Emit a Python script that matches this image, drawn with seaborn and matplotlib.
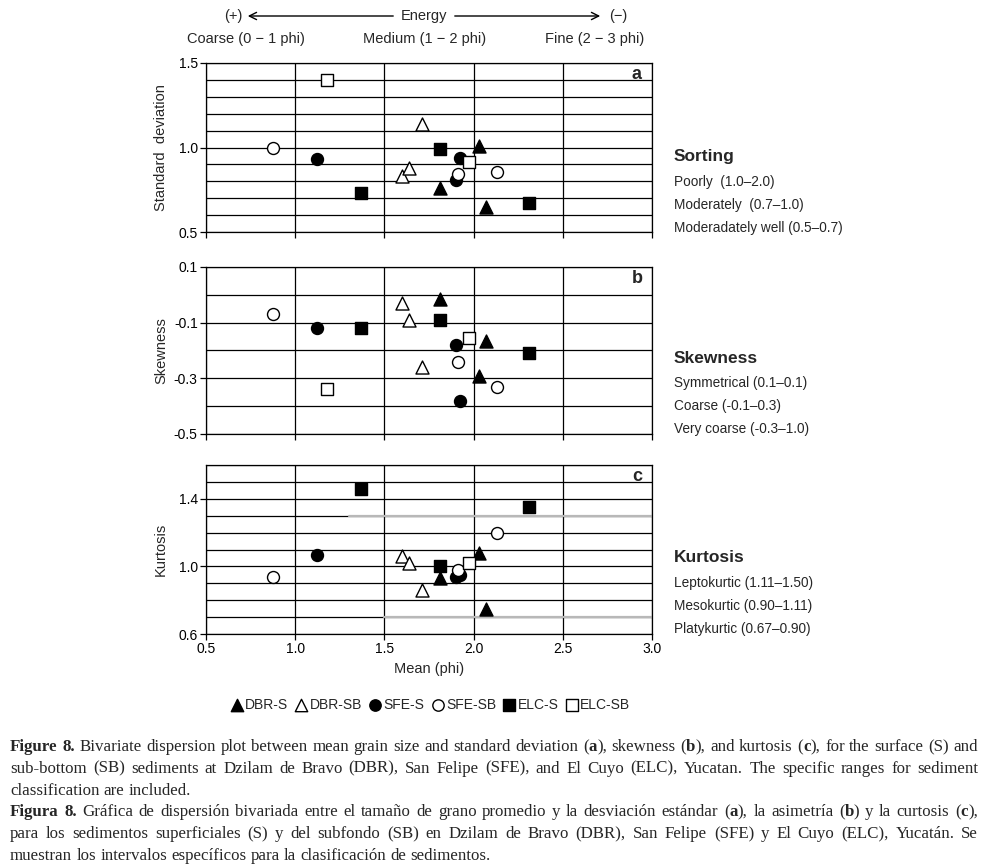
import matplotlib
matplotlib.use("Agg")
import matplotlib.pyplot as plt
import numpy as np
import pandas as pd
import seaborn as sns
from matplotlib.ticker import MultipleLocator
from matplotlib.patches import FancyArrowPatch

# mean grain size (phi) and the three moments
dbr_s_mean = [1.81, 2.03, 2.07]
dbr_s_sd = [0.76, 1.01, 0.645]
dbr_s_skew = [-0.015, -0.29, -0.165]
dbr_s_kurt = [0.93, 1.08, 0.75]

dbr_sb_mean = [1.60, 1.64, 1.71]
dbr_sb_sd = [0.83, 0.88, 1.14]
dbr_sb_skew = [-0.03, -0.09, -0.26]
dbr_sb_kurt = [1.06, 1.02, 0.86]

sfe_s_mean = [1.12, 1.90, 1.925]
sfe_s_sd = [0.93, 0.81, 0.935]
sfe_s_skew = [-0.12, -0.18, -0.38]
sfe_s_kurt = [1.065, 0.94, 0.95]

sfe_sb_mean = [0.875, 1.91, 2.13]
sfe_sb_sd = [1.0, 0.845, 0.855]
sfe_sb_skew = [-0.07, -0.24, -0.33]
sfe_sb_kurt = [0.94, 0.98, 1.20]

elc_s_mean = [1.37, 1.81, 2.31]
elc_s_sd = [0.73, 0.99, 0.67]
elc_s_skew = [-0.12, -0.09, -0.21]
elc_s_kurt = [1.46, 1.0, 1.35]

elc_sb_mean = [1.18, 1.975]
elc_sb_sd = [1.40, 0.915]
elc_sb_skew = [-0.34, -0.155]
elc_sb_kurt = [np.nan, 1.02]

groups = ["DBR-S", "DBR-SB", "SFE-S", "SFE-SB", "ELC-S", "ELC-SB"]

sd_ticks = [0.5, 1.0, 1.5]
sd_labels = ["0.5", "1.0", "1.5"]
skew_ticks = [-0.5, -0.3, -0.1, 0.1]
skew_labels = ["-0.5", "-0.3", "-0.1", "0.1"]
kurt_ticks = [0.6, 1.0, 1.4]
kurt_labels = ["0.6", "1.0", "1.4"]
mean_ticks = [0.5, 1.0, 1.5, 2.0, 2.5, 3.0]
mean_labels = ["0.5", "1.0", "1.5", "2.0", "2.5", "3.0"]

# faint grey lines across panel c
kurt_grey_y = [1.3, 0.7]
kurt_grey_from = [1.3, 1.5]

sorting_txt = ["Poorly  (1.0–2.0)", "Moderately  (0.7–1.0)", "Moderadately well (0.5–0.7)"]
skew_txt = ["Symmetrical (0.1–0.1)", "Coarse (-0.1–0.3)", "Very coarse (-0.3–1.0)"]
kurt_txt = ["Leptokurtic (1.11–1.50)", "Mesokurtic (0.90–1.11)", "Platykurtic (0.67–0.90)"]

caption = [
    "*Figure 8.* Bivariate dispersion plot between mean grain size and standard deviation (*a*), skewness (*b*), and kurtosis (*c*), for the surface (S) and",
    "sub-bottom (SB) sediments at Dzilam de Bravo (DBR), San Felipe (SFE), and El Cuyo (ELC), Yucatan. The specific ranges for sediment",
    "classification are included.",
    "*Figura 8.* Gráfica de dispersión bivariada entre el tamaño de grano promedio y la desviación estándar (*a*), la asimetría (*b*) y la curtosis (*c*),",
    "para los sedimentos superficiales (S) y del subfondo (SB) en Dzilam de Bravo (DBR), San Felipe (SFE) y El Cuyo (ELC), Yucatán. Se",
    "muestran los intervalos específicos para la clasificación de sedimentos.",
]

rows = []
for g, m, s, k, u in [
    ("DBR-S", dbr_s_mean, dbr_s_sd, dbr_s_skew, dbr_s_kurt),
    ("DBR-SB", dbr_sb_mean, dbr_sb_sd, dbr_sb_skew, dbr_sb_kurt),
    ("SFE-S", sfe_s_mean, sfe_s_sd, sfe_s_skew, sfe_s_kurt),
    ("SFE-SB", sfe_sb_mean, sfe_sb_sd, sfe_sb_skew, sfe_sb_kurt),
    ("ELC-S", elc_s_mean, elc_s_sd, elc_s_skew, elc_s_kurt),
    ("ELC-SB", elc_sb_mean, elc_sb_sd, elc_sb_skew, elc_sb_kurt),
]:
    for i in range(len(m)):
        rows.append({"group": g, "mean": m[i], "sd": s[i], "skew": k[i], "kurt": u[i]})
df = pd.DataFrame(rows)

mk = {"DBR-S": "^", "DBR-SB": "^", "SFE-S": "o", "SFE-SB": "o", "ELC-S": "s", "ELC-SB": "s"}
face = {"DBR-S": "black", "DBR-SB": "white", "SFE-S": "black", "SFE-SB": "white", "ELC-S": "black", "ELC-SB": "white"}
msize = {"^": 88, "o": 74, "s": 70}

sns.set_style("ticks")
sans = ["Liberation Sans", "DejaVu Sans"]
plt.rcParams["font.family"] = sans

W, H = 987, 867
fig = plt.figure(figsize=(W / 100, H / 100), dpi=100)
L = 206 / W
Wd = 446 / W
ax_a = fig.add_axes([L, 1 - 232 / H, Wd, 169 / H])
ax_b = fig.add_axes([L, 1 - 434 / H, Wd, 167 / H])
ax_c = fig.add_axes([L, 1 - 634 / H, Wd, 169 / H])

panels = [
    (ax_a, "sd", (0.5, 1.5), sd_ticks, sd_labels, "Standard  deviation", "a"),
    (ax_b, "skew", (-0.5, 0.1), skew_ticks, skew_labels, "Skewness", "b"),
    (ax_c, "kurt", (0.6, 1.6), kurt_ticks, kurt_labels, "Kurtosis", "c"),
]

for ax, col, ylim, yt, yl, ylab, letter in panels:
    for g in groups:
        sub = df[df["group"] == g]
        sns.scatterplot(data=sub, x="mean", y=col, ax=ax, marker=mk[g], s=msize[mk[g]],
                        color=face[g], edgecolor="black", linewidth=1.0, label=g,
                        legend=False, zorder=3, clip_on=False)
    ax.set_xlim(0.5, 3.0)
    ax.set_ylim(*ylim)
    ax.set_xticks(mean_ticks, mean_labels)
    ax.set_yticks(yt, yl)
    ax.yaxis.set_minor_locator(MultipleLocator(0.1))
    ax.grid(True, which="both", axis="y", color="black", lw=0.9)
    ax.grid(True, which="major", axis="x", color="black", lw=0.9)
    ax.set_axisbelow(True)
    for sp in ax.spines.values():
        sp.set_color("black")
        sp.set_linewidth(0.9)
    ax.tick_params(axis="both", which="major", direction="out", length=4, width=0.9,
                   labelsize=10, pad=2, colors="black")
    ax.tick_params(axis="both", which="minor", length=0)
    ax.set_ylabel(ylab, fontsize=10.5)
    ax.yaxis.set_label_coords(-0.085, 0.5)
    ax.set_xlabel("")
    ax.text(0.966, 0.93, letter, transform=ax.transAxes, ha="center", va="center",
            fontsize=13, fontweight="bold")

ax_a.tick_params(labelbottom=False)
ax_b.tick_params(labelbottom=False)
ax_c.set_xlabel("Mean (phi)", fontsize=10.5, labelpad=4)

for yv, x0 in zip(kurt_grey_y, kurt_grey_from):
    ax_c.axhline(yv, xmin=(x0 - 0.5) / 2.5, xmax=1.0, color="#b8b8b8", lw=1.6, zorder=1.5)


def fx(px):
    return px / W


def fy(py):
    return 1 - py / H


# header with the energy arrows
fig.text(fx(233), fy(16), "(+)", ha="center", va="center", fontsize=10.5)
fig.text(fx(424), fy(16), "Energy", ha="center", va="center", fontsize=10.5)
fig.text(fx(618), fy(16), "(−)", ha="center", va="center", fontsize=10.5)
fig.add_artist(FancyArrowPatch((fx(396), fy(16)), (fx(245), fy(16)), transform=fig.transFigure,
                               arrowstyle="->", mutation_scale=13, lw=1.0, color="black"))
fig.add_artist(FancyArrowPatch((fx(452), fy(16)), (fx(603), fy(16)), transform=fig.transFigure,
                               arrowstyle="->", mutation_scale=13, lw=1.0, color="black"))
fig.text(fx(246), fy(39), "Coarse (0 − 1 phi)", ha="center", va="center", fontsize=10.5)
fig.text(fx(425), fy(39), "Medium (1 − 2 phi)", ha="center", va="center", fontsize=10.5)
fig.text(fx(595), fy(39), "Fine (2 − 3 phi)", ha="center", va="center", fontsize=10.5)

# classification blocks on the right
for head, lines, y0 in [("Sorting", sorting_txt, 157), ("Skewness", skew_txt, 358),
                        ("Kurtosis", kurt_txt, 558)]:
    fig.text(fx(674), fy(y0), head, ha="left", va="center", fontsize=12.5, fontweight="bold")
    for i, t in enumerate(lines):
        fig.text(fx(674), fy(y0 + 25 + 23 * i), t, ha="left", va="center", fontsize=9.8)

# legend
h, l = ax_a.get_legend_handles_labels()
fig.legend(h, l, loc="center", bbox_to_anchor=(fx(430), fy(705)), ncol=6, frameon=False,
           fontsize=10, handletextpad=0.1, columnspacing=0.45, handlelength=1.0,
           borderaxespad=0, markerscale=0.95)

# caption, justified line by line
renderer = fig.canvas.get_renderer()
serif = ["Liberation Serif", "DejaVu Serif"]
x_left, x_right = 10, 978


def split_words(line):
    bold = False
    words = []
    for w in line.split(" "):
        segs = []
        parts = w.split("*")
        for i, p in enumerate(parts):
            if i > 0:
                bold = not bold
            if p:
                segs.append((p, bold))
        words.append(segs)
    return words


def make_line(y_px, line, size):
    placed = []
    total = 0.0
    for segs in split_words(line):
        ts = []
        for txt, b in segs:
            t = fig.text(0, fy(y_px), txt, fontsize=size, family=serif,
                         fontweight="bold" if b else "normal", ha="left", va="baseline")
            wpx = t.get_window_extent(renderer).width
            ts.append((t, wpx))
            total += wpx
        placed.append(ts)
    return placed, total


# size the caption so its longest line nearly fills the width
test_size = 10.0
widest = 0.0
for line in caption:
    placed, total = make_line(0, line, test_size)
    n = len(placed)
    widest = max(widest, total + (n - 1) * 0.25 * test_size * 100 / 72)
    for ts in placed:
        for t, _ in ts:
            t.remove()
cap_size = test_size * 955 / widest
space_w = 0.25 * cap_size * 100 / 72

for i, line in enumerate(caption):
    placed, total = make_line(751 + 21.8 * i, line, cap_size)
    gap = space_w
    if i not in (2, 5):
        gap = (x_right - x_left - total) / (len(placed) - 1)
    x = x_left
    for ts in placed:
        for t, wpx in ts:
            t.set_x(fx(x))
            x += wpx
        x += gap

fig.savefig("out.png", dpi=100, facecolor="white")
